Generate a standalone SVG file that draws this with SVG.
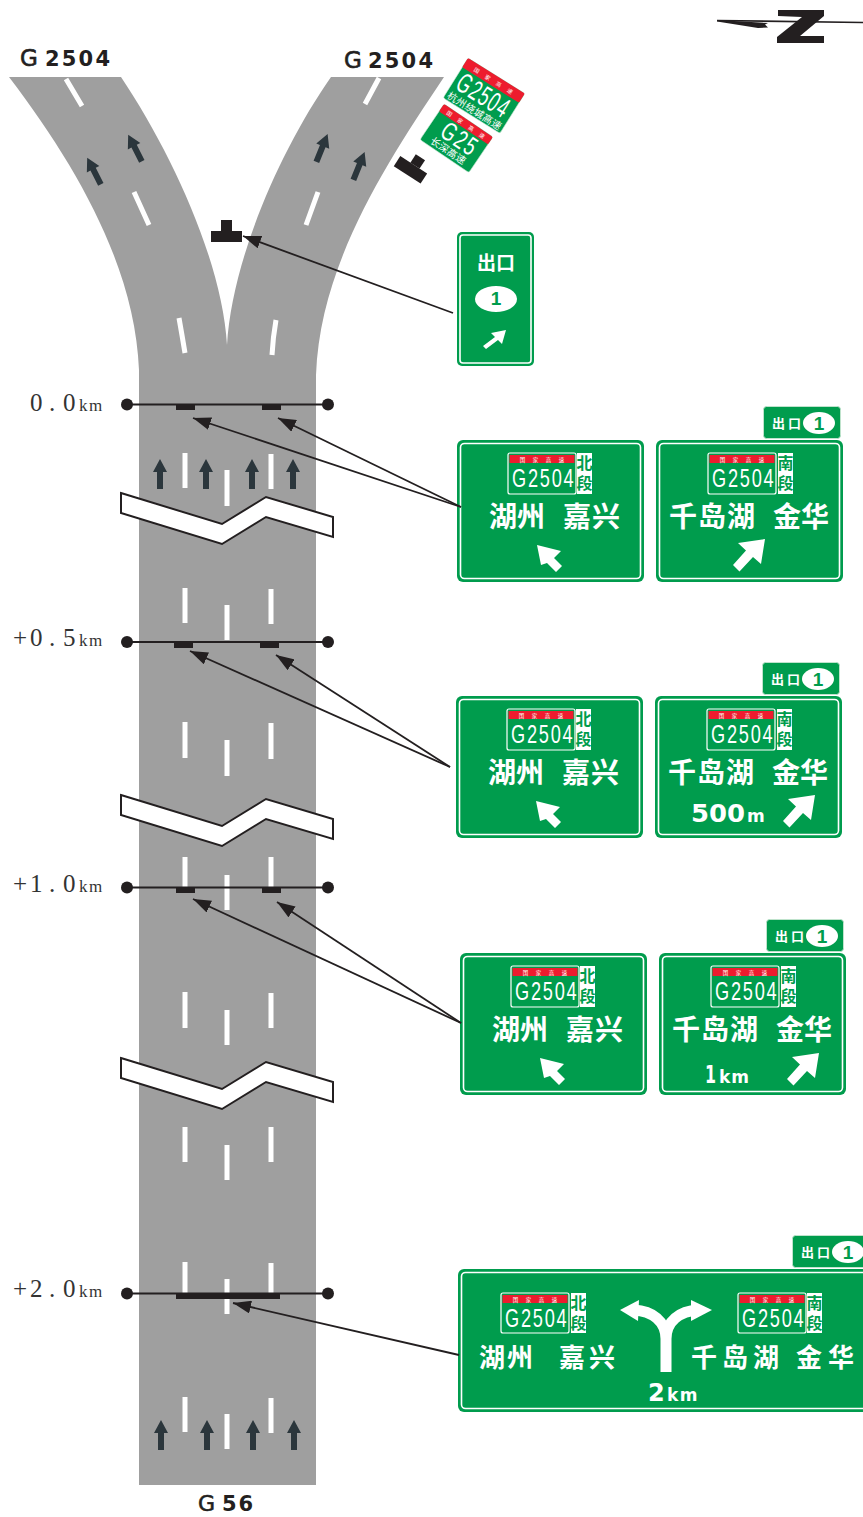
<svg xmlns="http://www.w3.org/2000/svg" width="863" height="1517" viewBox="0 0 863 1517">
<style>
.road{fill:#9f9f9f}
.dash{stroke:#fff;stroke-width:5;fill:none}
.la{fill:#2b363c}
.post{fill:#231f20}
.brk{fill:#fff;stroke:#231f20;stroke-width:2}
.gantry{stroke:#231f20;stroke-width:2.200}
.dot{fill:#231f20}
.conn{stroke:#231f20;stroke-width:1.800;fill:none;marker-end:url(#ah)}
.g{fill:#009c4d}
.edge{fill:none;stroke:#fff;stroke-width:1.600}
.outer{fill:#009c4d}
.shield{fill:#009c4d;stroke:#fff;stroke-width:1.200}
.red{fill:#ed1c2e}
.w{fill:#fff}
.tiny{font:5.5px "Liberation Sans","Noto Sans CJK SC",sans-serif;fill:#fff;text-anchor:middle;word-spacing:6px}
.num{font-family:"Liberation Sans",sans-serif;font-size:26px;fill:#fff;letter-spacing:2.5px}
.side{font:bold 16px "Noto Sans CJK SC",sans-serif;fill:#009c4d;writing-mode:vertical-rl;letter-spacing:4px}
.cn{font:bold 28px "Noto Sans CJK SC",sans-serif;fill:#fff}
.cn2{font:bold 26px "Noto Sans CJK SC",sans-serif;fill:#fff}
.tag{font:bold 13px "Noto Sans CJK SC",sans-serif;fill:#fff;letter-spacing:3px}
.one{font:bold 19px "Liberation Sans",sans-serif;fill:#009c4d;text-anchor:middle}
.dist{font-family:"DejaVu Sans",sans-serif;font-weight:bold;fill:#fff}
.lbl{font-family:"DejaVu Sans",sans-serif;fill:#231f20}
.gl{stroke:#231f20;stroke-width:.6}
.km{font-family:"Liberation Serif",serif;font-size:25px;fill:#333}
.kmu{font-size:17px;letter-spacing:1.5px}
</style>
<defs>
<marker id="ah" markerUnits="userSpaceOnUse" markerWidth="18" markerHeight="13" refX="18" refY="6.500" orient="auto"><path d="M0,0 L18,6.500 L0,13 Z" fill="#231f20"/></marker>
<polygon id="lane-up" points="0,-15 7,-2 3,-2 3,15 -3,15 -3,-2 -7,-2"/>
</defs>

<g id="road">
<path class="road" d="M9,77 H121 C170,150 222,260 227,345 C232,260 280,150 331,77 H444 C385,165 320,265 316,375 V1485 H139 V370 C135,270 80,170 9,77 Z"/>
<path class="dash" d="M66,79 L82,106 M134,192 L149,225 M179,318 Q182,335 185,353 M379,78 L365,104 M318,192 L306,225 M276,320 Q273,337 272,355"/>
<path class="dash" d="M185,453V488M185,588V623M185,722V758M185,857V890M185,992V1028M185,1127V1162M185,1262V1297M185,1397V1432"/>
<path class="dash" d="M227,470V506M227,605V640M227,740V776M227,875V910M227,1010V1045M227,1145V1180M227,1279V1314M227,1414V1449"/>
<path class="dash" d="M271,454V489M271,589V624M271,723V759M271,857V892M271,993V1028M271,1127V1162M271,1263V1298M271,1398V1433"/>
<g class="la">
<use href="#lane-up" transform="translate(94,171) rotate(-27)"/>
<use href="#lane-up" transform="translate(135,148) rotate(-27)"/>
<use href="#lane-up" transform="translate(322,148) rotate(22)"/>
<use href="#lane-up" transform="translate(359,166) rotate(22)"/>
<use href="#lane-up" x="160" y="474"/>
<use href="#lane-up" x="206" y="474"/>
<use href="#lane-up" x="252" y="474"/>
<use href="#lane-up" x="293" y="474"/>
<use href="#lane-up" x="161" y="1435"/>
<use href="#lane-up" x="207" y="1435"/>
<use href="#lane-up" x="253" y="1435"/>
<use href="#lane-up" x="294" y="1435"/>
</g>
</g>

<g id="breaks">
<polygon class="brk" points="121,493 222,524 266,497 333,517 333,537 266,517 222,544 121,513"/>
<polygon class="brk" points="121,795 222,826 266,799 333,819 333,839 266,819 222,846 121,815"/>
<polygon class="brk" points="121,1058 222,1089 266,1062 333,1082 333,1102 266,1082 222,1109 121,1078"/>
</g>

<g id="gantry-0-0">
<path class="gantry" d="M127,404.500H328"/><circle class="dot" cx="127" cy="404.500" r="6"/><circle class="dot" cx="328" cy="404.500" r="6"/>
<rect class="post" x="176" y="404" width="19" height="6"/><rect class="post" x="262" y="404" width="19" height="6"/>
<text class="km" x="30 49 63" y="411">0.0<tspan class="kmu" x="79">km</tspan></text>
</g>
<g id="gantry-0-5">
<path class="gantry" d="M127,642H328"/><circle class="dot" cx="127" cy="642" r="6"/><circle class="dot" cx="328" cy="642" r="6"/>
<rect class="post" x="174" y="642" width="19" height="6"/><rect class="post" x="260" y="642" width="19" height="6"/>
<text class="km" x="13 30 49 63" y="646">+0.5<tspan class="kmu" x="79">km</tspan></text>
</g>
<g id="gantry-1-0">
<path class="gantry" d="M127,887.500H328"/><circle class="dot" cx="127" cy="887.500" r="6"/><circle class="dot" cx="328" cy="887.500" r="6"/>
<rect class="post" x="176" y="887" width="19" height="6"/><rect class="post" x="262" y="887" width="19" height="6"/>
<text class="km" x="13 30 49 63" y="892">+1.0<tspan class="kmu" x="79">km</tspan></text>
</g>
<g id="gantry-2-0">
<path class="gantry" d="M127,1293.500H328"/><circle class="dot" cx="127" cy="1293.500" r="6"/><circle class="dot" cx="328" cy="1293.500" r="6"/>
<rect class="post" x="176" y="1293" width="104" height="6"/>
<text class="km" x="13 30 49 63" y="1297">+2.0<tspan class="kmu" x="79">km</tspan></text>
</g>

<g id="labels">
<text class="lbl gl" y="66" font-size="23" x="20">G</text>
<text class="lbl" y="66" font-size="21" font-weight="bold" x="45" textLength="65" lengthAdjust="spacing">2504</text>
<text class="lbl gl" y="68" font-size="23" x="344">G</text>
<text class="lbl" y="68" font-size="21" font-weight="bold" x="368" textLength="65" lengthAdjust="spacing">2504</text>
<text class="lbl gl" y="1511" font-size="22" x="198">G</text>
<text class="lbl" y="1511" font-size="21" font-weight="bold" x="222" textLength="31" lengthAdjust="spacing">56</text>
</g>

<g id="north">
<path d="M717,20.500 L863,22.500" stroke="#231f20" stroke-width="1.600" fill="none"/>
<polygon class="post" points="717,20 768,23 765,24.500 768,27.500 758,28 717,21.500"/>
<polygon class="post" points="778,10 824,10 824,16 800,36 824,36 824,43 777,43 777,37 802,17 778,16"/>
</g>

<g id="post-1" class="post"><rect x="211" y="231" width="31" height="11"/><rect x="221" y="220" width="11" height="11"/></g>
<g id="post-2" class="post" transform="translate(411,169) rotate(33)"><rect x="-16" y="-5" width="32" height="12"/><rect x="-4" y="-15" width="11" height="10"/></g>

<g id="plate-g2504" transform="translate(468,58) rotate(32)">
<rect class="g" width="67" height="47" rx="2" stroke="#cfe9d8" stroke-width=".6"/>
<rect class="red" width="67" height="11" rx="1.500"/>
<text class="tiny" x="33.500" y="8">国 家 高 速</text>
<text class="num" transform="translate(4,33) scale(.62,1)" style="font-size:28px;letter-spacing:2px">G2504</text>
<text font-family="Noto Sans CJK SC,sans-serif" font-size="10" fill="#fff" x="33.500" y="45" text-anchor="middle" textLength="62">杭州绕城高速</text>
</g>
<g id="plate-g25" transform="translate(444,104) rotate(34)">
<rect class="g" width="59" height="43" rx="2" stroke="#cfe9d8" stroke-width=".6"/>
<rect class="red" width="59" height="9" rx="1.500"/>
<text class="tiny" x="29.500" y="7">国 家 高 速</text>
<text class="num" transform="translate(13,29) scale(.7,1)" style="font-size:26px">G25</text>
<text font-family="Noto Sans CJK SC,sans-serif" font-size="10" fill="#fff" x="29.500" y="40" text-anchor="middle" textLength="40">长深高速</text>
</g>

<g id="sign-exit">
<rect class="outer" x="457" y="232" width="77" height="134" rx="5"/>
<rect class="edge" x="460" y="235" width="71" height="128" rx="3"/>
<text class="cn" style="font-size:19px" x="496" y="270" text-anchor="middle">出口</text>
<ellipse class="w" cx="496" cy="299" rx="21" ry="13"/>
<text class="one" x="496" y="305" font-size="18">1</text>
<polygon class="w" points="506,330 491,333 495,337 483,346 486,349 498,340 502,344"/>
</g>

<g id="sign-s0-north" transform="translate(457,440)">
<rect class="outer" width="187" height="142" rx="6"/><rect class="edge" x="3.500" y="3.500" width="180" height="135" rx="4"/>
<rect class="shield" x="51" y="13" width="68" height="41" rx="2"/><rect class="red" x="52.500" y="15" width="65" height="8"/>
<text class="tiny" x="85" y="21.500">国 家 高 速</text><text class="num" transform="translate(55,47) scale(.7,1)">G2504</text>
<rect class="w" x="120" y="13" width="15" height="41"/><text class="side" x="127.500" y="15">北段</text>
<text class="cn" x="32" y="87">湖州</text><text class="cn" x="106" y="87" letter-spacing="1">嘉兴</text>
<polygon class="w" points="80,105 104,111 97,118 105,126 99,132 90,123 84,125"/>
</g>
<g id="sign-s0-south" transform="translate(656,440)">
<rect class="outer" width="187" height="142" rx="6"/><rect class="edge" x="3.500" y="3.500" width="180" height="135" rx="4"/>
<rect class="shield" x="52" y="13" width="68" height="41" rx="2"/><rect class="red" x="53.500" y="15" width="65" height="8"/>
<text class="tiny" x="86" y="21.500">国 家 高 速</text><text class="num" transform="translate(56,47) scale(.7,1)">G2504</text>
<rect class="w" x="122" y="13" width="15" height="41"/><text class="side" x="129.500" y="15">南段</text>
<text class="cn" x="13" y="87" letter-spacing="1">千岛湖</text><text class="cn" x="117" y="87">金华</text>
<polygon class="w" points="109,99 82,103 90,110.500 77,125 83.500,131.500 97,117 105,124"/>
</g>
<g id="tag-s0" transform="translate(763,406)">
<rect class="g" x=".5" y=".5" width="77" height="32" rx="3" stroke="#bfe3cc" stroke-width="1"/>
<text class="tag" x="9" y="22">出口</text><ellipse class="w" cx="56" cy="17" rx="16" ry="11"/><text class="one" x="56" y="23.500">1</text>
</g>

<g id="sign-s05-north" transform="translate(456,696)">
<rect class="outer" width="187" height="142" rx="6"/><rect class="edge" x="3.500" y="3.500" width="180" height="135" rx="4"/>
<rect class="shield" x="51" y="13" width="68" height="41" rx="2"/><rect class="red" x="52.500" y="15" width="65" height="8"/>
<text class="tiny" x="85" y="21.500">国 家 高 速</text><text class="num" transform="translate(55,47) scale(.7,1)">G2504</text>
<rect class="w" x="120" y="13" width="15" height="41"/><text class="side" x="127.500" y="15">北段</text>
<text class="cn" x="32" y="87">湖州</text><text class="cn" x="106" y="87" letter-spacing="1">嘉兴</text>
<polygon class="w" points="80,105 104,111 97,118 105,126 99,132 90,123 84,125"/>
</g>
<g id="sign-s05-south" transform="translate(655,696)">
<rect class="outer" width="187" height="142" rx="6"/><rect class="edge" x="3.500" y="3.500" width="180" height="135" rx="4"/>
<rect class="shield" x="52" y="13" width="68" height="41" rx="2"/><rect class="red" x="53.500" y="15" width="65" height="8"/>
<text class="tiny" x="86" y="21.500">国 家 高 速</text><text class="num" transform="translate(56,47) scale(.7,1)">G2504</text>
<rect class="w" x="122" y="13" width="15" height="41"/><text class="side" x="129.500" y="15">南段</text>
<text class="cn" x="13" y="87" letter-spacing="1">千岛湖</text><text class="cn" x="117" y="87">金华</text>
<text class="dist" x="36" y="126" font-size="24" textLength="54" lengthAdjust="spacingAndGlyphs">500</text><text class="dist" x="92" y="126" font-size="17">m</text>
<polygon class="w" transform="translate(51,0)" points="109,99 82,103 90,110.500 77,125 83.500,131.500 97,117 105,124"/>
</g>
<g id="tag-s05" transform="translate(762,662)">
<rect class="g" x=".5" y=".5" width="77" height="32" rx="3" stroke="#bfe3cc" stroke-width="1"/>
<text class="tag" x="9" y="22">出口</text><ellipse class="w" cx="56" cy="17" rx="16" ry="11"/><text class="one" x="56" y="23.500">1</text>
</g>

<g id="sign-s1-north" transform="translate(460,953)">
<rect class="outer" width="187" height="142" rx="6"/><rect class="edge" x="3.500" y="3.500" width="180" height="135" rx="4"/>
<rect class="shield" x="51" y="13" width="68" height="41" rx="2"/><rect class="red" x="52.500" y="15" width="65" height="8"/>
<text class="tiny" x="85" y="21.500">国 家 高 速</text><text class="num" transform="translate(55,47) scale(.7,1)">G2504</text>
<rect class="w" x="120" y="13" width="15" height="41"/><text class="side" x="127.500" y="15">北段</text>
<text class="cn" x="32" y="87">湖州</text><text class="cn" x="106" y="87" letter-spacing="1">嘉兴</text>
<polygon class="w" points="80,105 104,111 97,118 105,126 99,132 90,123 84,125"/>
</g>
<g id="sign-s1-south" transform="translate(659,953)">
<rect class="outer" width="187" height="142" rx="6"/><rect class="edge" x="3.500" y="3.500" width="180" height="135" rx="4"/>
<rect class="shield" x="52" y="13" width="68" height="41" rx="2"/><rect class="red" x="53.500" y="15" width="65" height="8"/>
<text class="tiny" x="86" y="21.500">国 家 高 速</text><text class="num" transform="translate(56,47) scale(.7,1)">G2504</text>
<rect class="w" x="122" y="13" width="15" height="41"/><text class="side" x="129.500" y="15">南段</text>
<text class="cn" x="13" y="87" letter-spacing="1">千岛湖</text><text class="cn" x="117" y="87">金华</text>
<text class="dist" x="46" y="130" font-size="24" textLength="11" lengthAdjust="spacingAndGlyphs">1</text><text class="dist" x="60" y="130" font-size="17" letter-spacing="1">km</text>
<polygon class="w" transform="translate(51,1)" points="109,99 82,103 90,110.500 77,125 83.500,131.500 97,117 105,124"/>
</g>
<g id="tag-s1" transform="translate(766,919)">
<rect class="g" x=".5" y=".5" width="77" height="32" rx="3" stroke="#bfe3cc" stroke-width="1"/>
<text class="tag" x="9" y="22">出口</text><ellipse class="w" cx="56" cy="17" rx="16" ry="11"/><text class="one" x="56" y="23.500">1</text>
</g>

<g id="sign-s2" transform="translate(458,1269)">
<rect class="outer" width="420" height="143" rx="6"/><rect class="edge" x="3.500" y="3.500" width="413" height="136" rx="4"/>
<rect class="shield" x="43" y="24" width="68" height="40" rx="2"/><rect class="red" x="44.500" y="26" width="65" height="8"/>
<text class="tiny" x="77" y="32.500">国 家 高 速</text><text class="num" transform="translate(47,58) scale(.7,1)">G2504</text>
<rect class="w" x="113" y="24" width="15" height="40"/><text class="side" x="120.500" y="26">北段</text>
<rect class="shield" x="280" y="24" width="68" height="40" rx="2"/><rect class="red" x="281.500" y="26" width="65" height="8"/>
<text class="tiny" x="314" y="32.500">国 家 高 速</text><text class="num" transform="translate(284,58) scale(.7,1)">G2504</text>
<rect class="w" x="349" y="24" width="15" height="40"/><text class="side" x="356.500" y="26">南段</text>
<text class="cn2" x="21" y="98" letter-spacing="2">湖州</text><text class="cn2" x="101" y="98" letter-spacing="4">嘉兴</text>
<text class="cn2" x="233" y="98" letter-spacing="5">千岛湖</text><text class="cn2" x="338" y="98" letter-spacing="6">金华</text>
<path d="M208,103 V70 C208,52 194,42 176,41 M208,70 C208,52 222,42 240,41" fill="none" stroke="#fff" stroke-width="11"/>
<polygon class="w" points="162,41 181,31 180,52"/><polygon class="w" points="254,41 233,31 233,52"/>
<text class="dist" x="190" y="132" font-size="24">2</text><text class="dist" x="209" y="132" font-size="17" letter-spacing="1.500">km</text>
</g>
<g id="tag-s2" transform="translate(792,1235)">
<rect class="g" x=".5" y=".5" width="90" height="32" rx="3" stroke="#bfe3cc" stroke-width="1"/>
<text class="tag" x="9" y="22">出口</text><ellipse class="w" cx="56" cy="17" rx="16" ry="11"/><text class="one" x="56" y="23.500">1</text>
</g>

<g id="connectors">
<path class="conn" d="M453,313 L243,236"/>
<path class="conn" d="M461,507 L193,418"/>
<path class="conn" d="M461,507 L278,418"/>
<path class="conn" d="M450,767 L190,651"/>
<path class="conn" d="M450,767 L276,655"/>
<path class="conn" d="M461,1023 L193,899"/>
<path class="conn" d="M461,1023 L277,902"/>
<path class="conn" d="M459,1355 L233,1303"/>
</g>
</svg>
